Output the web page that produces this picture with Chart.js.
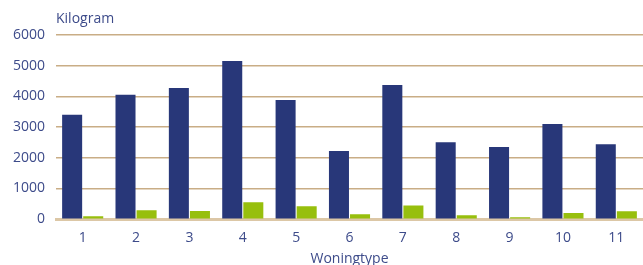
<!DOCTYPE html>
<html><head><meta charset="utf-8">
<script src="https://cdn.jsdelivr.net/npm/chart.js@4"></script>
<style>html,body{margin:0;padding:0;background:#fff}#wrap{width:643px;height:265px;position:relative}</style>
</head><body><div id="wrap"><canvas id="c" width="643" height="265"></canvas></div>
<script>
const categories = ["1","2","3","4","5","6","7","8","9","10","11"];
const seriesA = [3400, 4050, 4270, 5150, 3880, 2220, 4370, 2510, 2350, 3100, 2445];
const seriesB = [100, 290, 270, 550, 420, 160, 450, 130, 60, 200, 260];
const yTicks = [0, 1000, 2000, 3000, 4000, 5000, 6000];
const yUnit = "Kilogram";
const xTitle = "Woningtype";

const textColor = "#3d4b8a";
const fontFam = "'Open Sans', sans-serif";

const textPlugin = {
  id: 'texts',
  afterDraw(chart) {
    const ctx = chart.ctx;
    const a = chart.chartArea;
    ctx.save();
    ctx.font = "14px " + fontFam;
    ctx.fillStyle = textColor;
    ctx.textBaseline = 'alphabetic';
    ctx.textAlign = 'left';
    ctx.fillText(yUnit, a.left, 23);
    ctx.textAlign = 'center';
    ctx.fillText(xTitle, (a.left + a.right) / 2, 263);
    ctx.restore();
  }
};

new Chart(document.getElementById('c'), {
  type: 'bar',
  data: {
    labels: categories,
    datasets: [
      { data: seriesA, backgroundColor: '#283779', barPercentage: 0.95, categoryPercentage: 0.79 },
      { data: seriesB, backgroundColor: '#97bf0d', barPercentage: 0.95, categoryPercentage: 0.79 }
    ]
  },
  options: {
    responsive: false,
    animation: false,
    layout: { padding: { top: 35, right: 0, left: 0, bottom: 9 } },
    plugins: { legend: { display: false }, tooltip: { enabled: false } },
    scales: {
      x: {
        grid: { display: false, drawTicks: false },
        border: { display: true, color: '#dcc7a6', width: 3 },
        ticks: { color: textColor, font: { family: fontFam, size: 14 }, padding: 10 }
      },
      y: {
        min: 0, max: 6000,
        afterBuildTicks(scale) { scale.ticks = yTicks.map(v => ({ value: v })); },
        afterFit(scale) { scale.width = 56; },
        grid: { color: '#c9ad86', lineWidth: 1.5, drawTicks: false },
        border: { display: false },
        ticks: { color: textColor, font: { family: fontFam, size: 14 }, padding: 11, callback: v => String(v) }
      }
    }
  },
  plugins: [textPlugin]
});
</script></body></html>
